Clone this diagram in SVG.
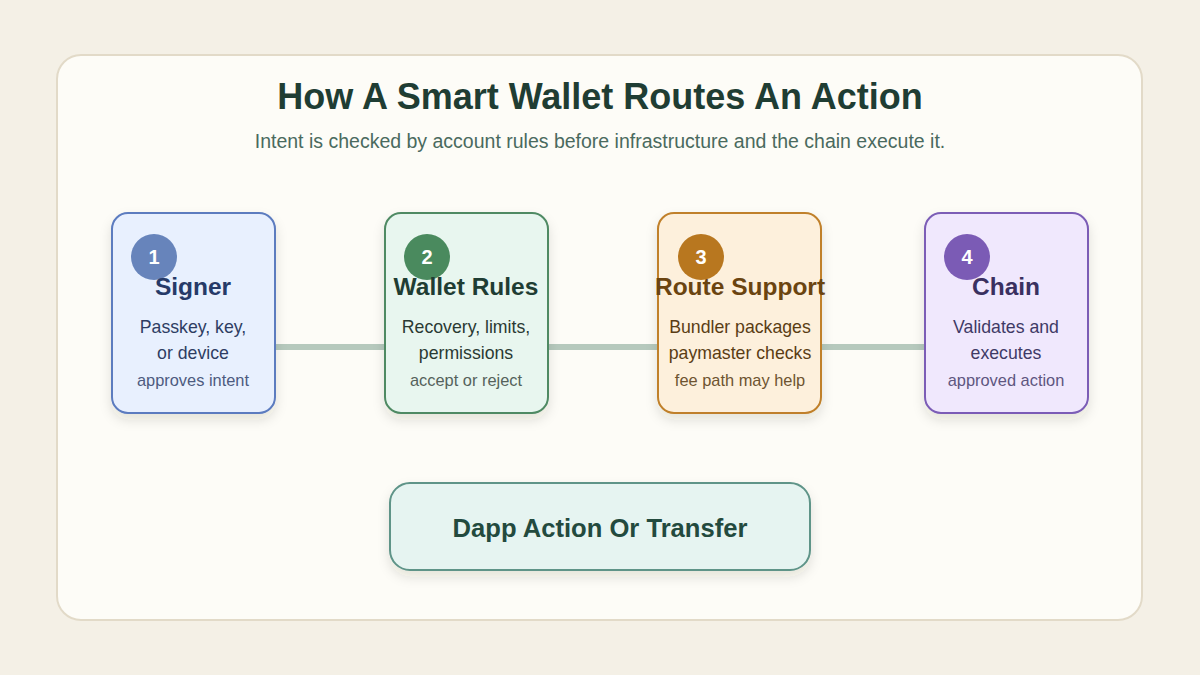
<svg xmlns="http://www.w3.org/2000/svg" width="1200" height="675" viewBox="0 0 1200 675">
<defs>
<filter id="sh" x="-20%" y="-20%" width="140%" height="150%">
<feDropShadow dx="0" dy="6" stdDeviation="6" flood-color="#3a3020" flood-opacity="0.12"/>
</filter>
<style>
.t{font-family:"Liberation Sans",Arial,sans-serif;text-anchor:middle}
.h{font-size:24.5px;font-weight:bold}
.b{font-size:17.7px}
.s{font-size:16.4px}
.n{font-size:20px;font-weight:bold;fill:#ffffff}
.card{stroke-width:2}
.conn{stroke:#b6c9bd;stroke-width:6;fill:none}
</style>
</defs>
<rect x="0" y="0" width="1200" height="675" fill="#f4f0e6"/>
<rect x="57" y="55" width="1085" height="565" rx="24" fill="#fdfcf7" stroke="#e2dac8" stroke-width="2"/>
<text class="t" x="600" y="109" font-size="36" font-weight="bold" fill="#1f3d33">How A Smart Wallet Routes An Action</text>
<text class="t" x="600" y="148" font-size="19.5" fill="#4a6a5e">Intent is checked by account rules before infrastructure and the chain execute it.</text>
<g id="connectors">
<line class="conn" x1="275" y1="347" x2="385" y2="347"/>
<line class="conn" x1="548" y1="347" x2="658" y2="347"/>
<line class="conn" x1="821" y1="347" x2="925" y2="347"/>
</g>
<g id="signer">
<rect class="card" x="112" y="213" width="163" height="200" rx="16" fill="#e8f0fe" stroke="#5b7bbf" filter="url(#sh)"/>
<circle cx="154" cy="257" r="23" fill="#5b7bb5" opacity="0.92"/>
<text class="t n" x="154" y="264">1</text>
<text class="t h" x="193" y="295" fill="#263a68">Signer</text>
<text class="t b" x="193" y="333" fill="#2e3d63">Passkey, key,</text>
<text class="t b" x="193" y="359" fill="#2e3d63">or device</text>
<text class="t s" x="193" y="386" fill="#4d5b80">approves intent</text>
</g>
<g id="wallet-rules">
<rect class="card" x="385" y="213" width="163" height="200" rx="16" fill="#e8f6ef" stroke="#4f8a64" filter="url(#sh)"/>
<circle cx="427" cy="257" r="23" fill="#4a8a5e"/>
<text class="t n" x="427" y="264">2</text>
<text class="t h" x="466" y="295" fill="#1f3d33">Wallet Rules</text>
<text class="t b" x="466" y="333" fill="#2a3a33">Recovery, limits,</text>
<text class="t b" x="466" y="359" fill="#2a3a33">permissions</text>
<text class="t s" x="466" y="386" fill="#55625b">accept or reject</text>
</g>
<g id="route-support">
<rect class="card" x="658" y="213" width="163" height="200" rx="16" fill="#fdf0dc" stroke="#c0802a" filter="url(#sh)"/>
<circle cx="701" cy="257" r="23" fill="#b8771f"/>
<text class="t n" x="701" y="264">3</text>
<text class="t h" x="740" y="295" fill="#6b4410">Route Support</text>
<text class="t b" x="740" y="333" fill="#5a3d14">Bundler packages</text>
<text class="t b" x="740" y="359" fill="#5a3d14">paymaster checks</text>
<text class="t s" x="740" y="386" fill="#6e5430">fee path may help</text>
</g>
<g id="chain">
<rect class="card" x="925" y="213" width="163" height="200" rx="16" fill="#f0e8fd" stroke="#7b5db6" filter="url(#sh)"/>
<circle cx="967" cy="257" r="23" fill="#7b5bb5"/>
<text class="t n" x="967" y="264">4</text>
<text class="t h" x="1006" y="295" fill="#3a3060">Chain</text>
<text class="t b" x="1006" y="333" fill="#3f3a66">Validates and</text>
<text class="t b" x="1006" y="359" fill="#3f3a66">executes</text>
<text class="t s" x="1006" y="386" fill="#5e5680">approved action</text>
</g>
<g id="dapp-action">
<rect class="card" x="390" y="483" width="420" height="87" rx="20" fill="#e6f4f1" stroke="#5e9488" filter="url(#sh)"/>
<text class="t" x="600" y="537" font-size="25.6" font-weight="bold" fill="#234a3e">Dapp Action Or Transfer</text>
</g>
</svg>
